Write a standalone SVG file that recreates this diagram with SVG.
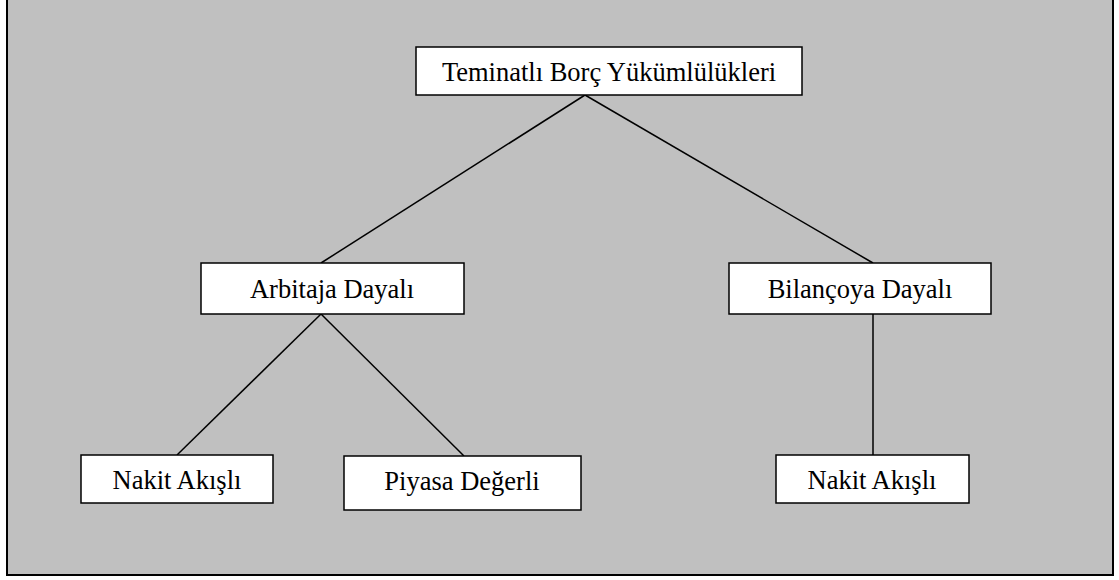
<svg xmlns="http://www.w3.org/2000/svg" width="1119" height="580" viewBox="0 0 1119 580">
<style>
.bg{fill:#c0c0c0;stroke:#000;stroke-width:2}
.box{fill:#fff;stroke:#000;stroke-width:1.5}
.t{font-family:"Liberation Serif","Times New Roman",serif;font-size:26.5px;fill:#000;text-anchor:middle}
.c{stroke:#000;stroke-width:1.5;fill:none}
</style>
<rect class="bg" x="7" y="-5" width="1106" height="580"/>
<g id="connectors">
<line class="c" x1="585" y1="95" x2="321" y2="263"/>
<line class="c" x1="585" y1="95" x2="873" y2="263"/>
<line class="c" x1="321" y1="314" x2="177" y2="455"/>
<line class="c" x1="321" y1="314" x2="464" y2="456"/>
<line class="c" x1="873" y1="314" x2="873" y2="455"/>
</g>
<g id="root">
<rect class="box" x="416" y="47" width="386" height="48"/>
<text class="t" x="609" y="81">Teminatlı Borç Yükümlülükleri</text>
</g>
<g id="arbitaj">
<rect class="box" x="201" y="263" width="263" height="51"/>
<text class="t" x="332" y="298">Arbitaja Dayalı</text>
</g>
<g id="bilanco">
<rect class="box" x="729" y="263" width="262" height="51"/>
<text class="t" x="860" y="298">Bilançoya Dayalı</text>
</g>
<g id="nakit1">
<rect class="box" x="81" y="455" width="192" height="48"/>
<text class="t" x="177" y="489">Nakit Akışlı</text>
</g>
<g id="piyasa">
<rect class="box" x="344" y="456" width="237" height="54"/>
<text class="t" x="462" y="490">Piyasa Değerli</text>
</g>
<g id="nakit2">
<rect class="box" x="776" y="455" width="193" height="48"/>
<text class="t" x="872" y="489">Nakit Akışlı</text>
</g>
</svg>
